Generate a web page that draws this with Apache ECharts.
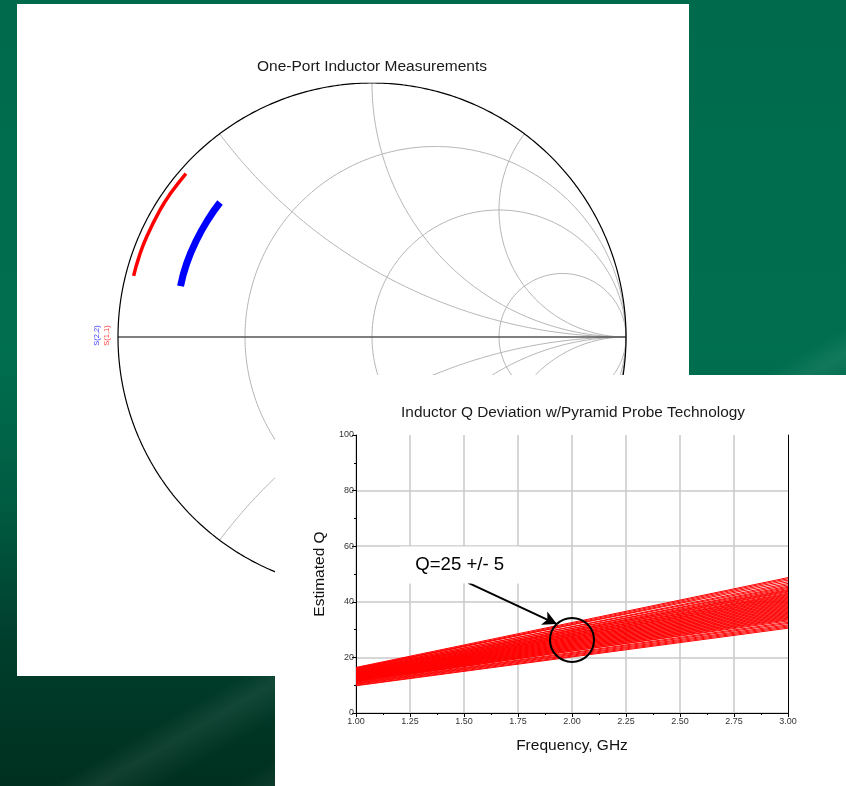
<!DOCTYPE html>
<html>
<head>
<meta charset="utf-8">
<script src="https://cdn.jsdelivr.net/npm/echarts@6/dist/echarts.min.js"></script>
<style>
html, body { margin: 0; padding: 0; }
body {
  width: 846px; height: 786px; overflow: hidden; position: relative;
  font-family: "Liberation Sans", Arial, sans-serif;
  background:
    linear-gradient(150deg, rgba(255,255,255,0) 64%, rgba(255,255,255,0.07) 66%, rgba(255,255,255,0) 69%),
    linear-gradient(150deg, rgba(255,255,255,0) 72%, rgba(255,255,255,0.08) 75%, rgba(255,255,255,0) 78%),
    linear-gradient(150deg, rgba(255,255,255,0) 84%, rgba(255,255,255,0.07) 87%, rgba(255,255,255,0) 90%),
    linear-gradient(180deg, #006b4c 0%, #006f4f 45%, #005a40 65%, #003e2c 82%, #00301f 100%);
}
#smith { position: absolute; left: 17px; top: 4px; width: 672px; height: 672px; background: #fff; }
#qplot { position: absolute; left: 275px; top: 375px; width: 571px; height: 411px; background: #fff; }
</style>
</head>
<body>
<div id="smith"></div>
<div id="qplot"></div>
<script>
// ---- Smith chart ----
// constant resistance circles and reactance arcs of the chart grid
var smithR = [1 / 3, 1, 3];
var smithX = [0.5, 1, 2];

// measured reflection coefficients (magnitude, angle in degrees)
var s11Mag = [0.975, 0.974, 0.973, 0.971, 0.970, 0.969];
var s11Ang = [138.7, 144.5, 149.1, 156.0, 160.9, 165.6];
var s22Mag = [0.799, 0.794, 0.789, 0.785, 0.780];
var s22Ang = [138.5, 144.4, 151.0, 158.3, 165.1];

// ---- Q plot ----
var freqEnds = [1.0, 3.0];
var qAt1GHz = [16.4, 16.1, 15.9, 16.2, 15.6, 15.8, 15.3, 15.5, 15.1, 14.9, 15.2, 14.7, 14.8, 14.5,
  14.2, 14.6, 14.0, 14.3, 13.9, 13.7, 14.1, 13.5, 13.8, 13.3, 13.6, 13.1, 13.4, 12.9, 13.2, 12.7,
  13.0, 12.5, 12.8, 12.3, 12.6, 12.1, 12.4, 11.9, 12.2, 11.7, 12.0, 11.5, 11.8, 11.3, 11.6, 11.1,
  11.4, 10.9, 10.7, 10.5, 10.3, 10.0, 9.8];
var qAt3GHz = [48.7, 48.3, 47.8, 47.2, 46.6, 46.1, 45.6, 45.2, 44.8, 44.4, 44.1, 43.8, 43.5, 43.1,
  42.8, 42.5, 42.2, 41.9, 41.6, 41.3, 41.0, 40.7, 40.4, 40.1, 39.8, 39.5, 39.2, 38.9, 38.6, 38.3,
  38.0, 37.7, 37.4, 37.1, 36.8, 36.5, 36.2, 35.9, 35.6, 35.3, 35.0, 34.7, 34.4, 34.1, 33.8, 33.5,
  33.1, 32.6, 32.2, 31.7, 31.3, 30.9, 30.5];

// annotation (data coordinates)
var noteText = 'Q=25 +/- 5';
var notePos = [1.48, 53.2];
var arrowFrom = [1.52, 46.8];
var arrowTo = [1.93, 32.0];
var ringCenter = [2.0, 26.3];

var FONT = '"Liberation Sans", Arial, sans-serif';

// impedance -> reflection coefficient
function gamma(r, x) {
  var d = (r + 1) * (r + 1) + x * x;
  return [(r * r + x * x - 1) / d, 2 * x / d];
}

function plain(pts, color, width, z) {
  return {
    type: 'line', data: pts, symbol: 'none', silent: true, animation: false, z: z || 1,
    lineStyle: { color: color, width: width }
  };
}

var smithSeries = [];
// outer circle r = 0 and resistance circles
function rCircle(r) {
  var pts = [];
  for (var i = 1; i < 600; i++) {
    var t = -Math.PI / 2 + Math.PI * i / 600;
    pts.push(gamma(r, Math.tan(t)));
  }
  pts.push(pts[0]);
  return pts;
}
smithR.forEach(function (r) { smithSeries.push(plain(rCircle(r), '#b4b4b4', 1)); });
// reactance arcs, both signs
smithX.forEach(function (x) {
  [x, -x].forEach(function (xx) {
    var pts = [];
    for (var i = 0; i < 400; i++) {
      var t = (Math.PI / 2) * i / 400;
      pts.push(gamma(Math.tan(t), xx));
    }
    pts.push([1, 0]);
    smithSeries.push(plain(pts, '#b4b4b4', 1));
  });
});
smithSeries.push(plain([[-1, 0], [1, 0]], '#555', 1.5, 2));
smithSeries.push(plain(rCircle(0), '#000', 1.2, 2));

function polarPts(mag, ang) {
  return mag.map(function (m, i) {
    var a = ang[i] * Math.PI / 180;
    return [m * Math.cos(a), m * Math.sin(a)];
  });
}
var s22 = plain(polarPts(s22Mag, s22Ang), '#0000ff', 7, 5);
s22.smooth = true;
var s11 = plain(polarPts(s11Mag, s11Ang), '#ff0000', 3.5, 5);
s11.smooth = true;
smithSeries.push(s22, s11);

var smith = echarts.init(document.getElementById('smith'));
smith.setOption({
  animation: false,
  grid: { left: 101, top: 79, width: 508, height: 508 },
  xAxis: { type: 'value', min: -1, max: 1, show: false },
  yAxis: { type: 'value', min: -1, max: 1, show: false },
  series: smithSeries
});
var edge = smith.convertToPixel({ gridIndex: 0 }, [-1, 0]);
var topPt = smith.convertToPixel({ gridIndex: 0 }, [0, 1]);
smith.setOption({
  graphic: [
    { type: 'text', x: topPt[0], y: topPt[1] - 16,
      style: { text: 'One-Port Inductor Measurements', font: '15.5px ' + FONT, fill: '#1a1a1a', align: 'center', verticalAlign: 'middle' } },
    { type: 'text', x: edge[0] - 20.7, y: edge[1] - 1.5, rotation: Math.PI / 2,
      style: { text: 'S(2,2)', font: '7.5px ' + FONT, fill: '#3c3cff', align: 'center', verticalAlign: 'middle' } },
    { type: 'text', x: edge[0] - 11.3, y: edge[1] - 1.5, rotation: Math.PI / 2,
      style: { text: 'S(1,1)', font: '7.5px ' + FONT, fill: '#ff3c3c', align: 'center', verticalAlign: 'middle' } }
  ]
});

// ---- Q deviation plot ----
var qSeries = qAt1GHz.map(function (q1, i) {
  return plain([[freqEnds[0], q1], [freqEnds[1], qAt3GHz[i]]], '#ff0000', 1, 2);
});
qSeries.push({
  type: 'line', data: [], z: 10, silent: true, animation: false,
  markLine: {
    silent: true, symbol: ['none', 'arrow'], symbolSize: [11, 14],
    label: { show: false },
    lineStyle: { color: '#000', width: 2, type: 'solid' },
    data: [[{ coord: arrowFrom }, { coord: arrowTo }]]
  },
  markPoint: {
    silent: true,
    data: [
      { coord: ringCenter, symbol: 'circle', symbolSize: 44,
        itemStyle: { color: 'rgba(0,0,0,0)', borderColor: '#000', borderWidth: 2 }, label: { show: false } },
      { coord: notePos, symbol: 'rect', symbolSize: 1, itemStyle: { color: 'rgba(0,0,0,0)' },
        label: { show: true, position: 'inside', formatter: noteText, fontFamily: FONT, fontSize: 18.6,
          color: '#000', backgroundColor: '#fff', padding: [9, 15] } }
    ]
  }
});

var axisText = { fontSize: 9, color: '#333', fontFamily: FONT };
var nameText = { fontSize: 15.5, color: '#111', fontFamily: FONT };
var qChart = echarts.init(document.getElementById('qplot'));
qChart.setOption({
  animation: false,
  grid: { left: 81, top: 60, width: 432, height: 278 },
  xAxis: [{
    type: 'value', min: 1, max: 3, interval: 0.25,
    name: 'Frequency, GHz', nameLocation: 'middle', nameGap: 25,
    nameTextStyle: nameText,
    axisLine: { lineStyle: { color: '#000', width: 1 } },
    axisTick: { length: 4, lineStyle: { color: '#000' } },
    minorTick: { show: true, splitNumber: 2, length: 2, lineStyle: { color: '#000' } },
    axisLabel: Object.assign({ margin: 4, formatter: function (v) { return v.toFixed(2); } }, axisText),
    splitLine: { show: true, showMaxLine: false, lineStyle: { color: '#c8c8c8', width: 1.5 } }
  }, {
    type: 'value', min: 1, max: 3, position: 'top',
    axisLine: { lineStyle: { color: '#000', width: 1 } },
    axisTick: { show: false }, axisLabel: { show: false }, splitLine: { show: false }
  }],
  yAxis: [{
    type: 'value', min: 0, max: 100, interval: 20,
    name: 'Estimated Q', nameLocation: 'middle', nameGap: 27,
    nameTextStyle: nameText,
    axisLine: { lineStyle: { color: '#000', width: 1 } },
    axisTick: { length: 4, lineStyle: { color: '#000' } },
    minorTick: { show: true, splitNumber: 2, length: 2, lineStyle: { color: '#000' } },
    axisLabel: Object.assign({ margin: 2 }, axisText),
    splitLine: { show: true, showMaxLine: false, lineStyle: { color: '#c8c8c8', width: 1.5 } }
  }, {
    type: 'value', min: 0, max: 100, position: 'right',
    axisLine: { show: true, lineStyle: { color: '#000', width: 1 } },
    axisTick: { show: false }, axisLabel: { show: false }, splitLine: { show: false }
  }],
  series: qSeries
});
var midTop = qChart.convertToPixel({ gridIndex: 0 }, [2, 100]);
qChart.setOption({
  graphic: [{
    type: 'text', x: midTop[0] + 1, y: midTop[1] - 22,
    style: { text: 'Inductor Q Deviation w/Pyramid Probe Technology', font: '15.4px ' + FONT, fill: '#1a1a1a', align: 'center', verticalAlign: 'middle' }
  }]
});
</script>
</body>
</html>
